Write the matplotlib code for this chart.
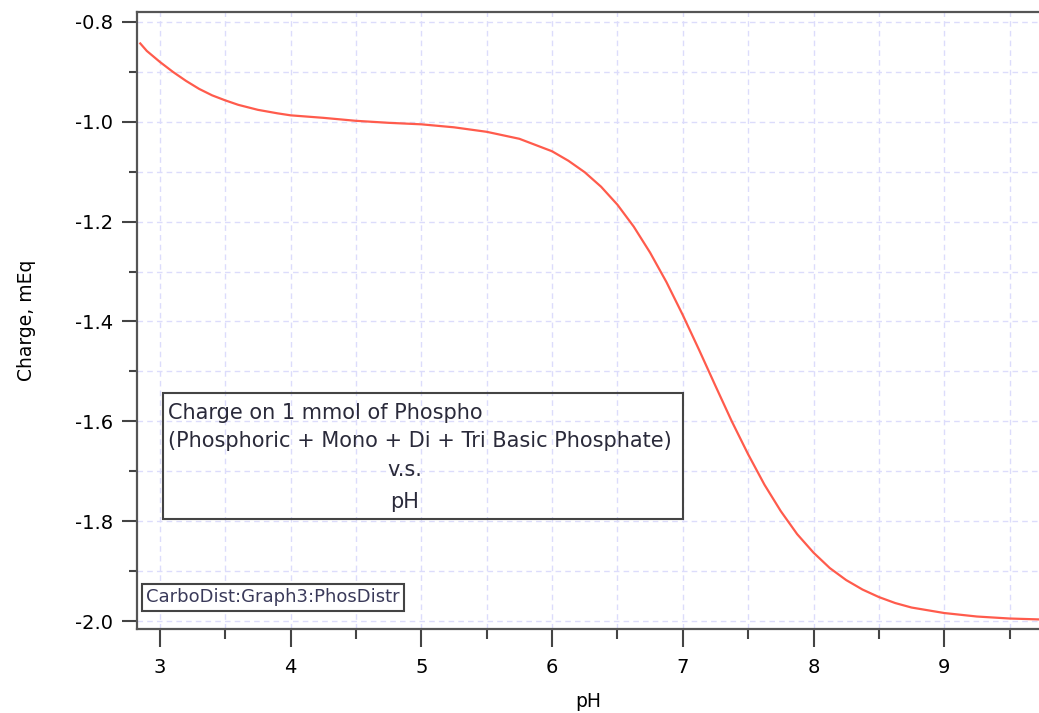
import numpy as np
import matplotlib.pyplot as plt
from matplotlib.ticker import MultipleLocator

# Net charge of 1 mmol phosphate species vs pH
ph = [2.85, 2.9, 3.0, 3.1, 3.2, 3.3, 3.4, 3.5, 3.6, 3.75, 3.9, 4.0, 4.25,
      4.5, 4.75, 5.0, 5.25, 5.5, 5.75, 6.0, 6.125, 6.25, 6.375, 6.5, 6.625,
      6.75, 6.875, 7.0, 7.125, 7.25, 7.375, 7.5, 7.625, 7.75, 7.875, 8.0,
      8.125, 8.25, 8.375, 8.5, 8.625, 8.75, 9.0, 9.25, 9.5, 9.75]
charge = [-0.843, -0.858, -0.880, -0.900, -0.918, -0.934, -0.947, -0.957,
          -0.966, -0.976, -0.983, -0.987, -0.992, -0.998, -1.002, -1.005,
          -1.011, -1.020, -1.034, -1.059, -1.078, -1.101, -1.130, -1.166,
          -1.210, -1.262, -1.321, -1.387, -1.457, -1.529, -1.600, -1.666,
          -1.727, -1.780, -1.826, -1.863, -1.894, -1.918, -1.937, -1.952,
          -1.964, -1.973, -1.984, -1.991, -1.995, -1.997]

xticks = [3, 4, 5, 6, 7, 8, 9]
yticks = [-2.0, -1.8, -1.6, -1.4, -1.2, -1.0, -0.8]

plt.rcParams['font.family'] = ['DejaVu Sans']

fig = plt.figure(figsize=(10.39, 7.13), dpi=100)
ax = fig.add_axes([137 / 1039, 1 - 629 / 713, 1 - 137 / 1039, (629 - 12) / 713])

ax.plot(ph, charge, color='#ff5b4c', lw=1.6, solid_joinstyle='round')

ax.set_xlim(2.825, 9.725)
ax.set_ylim(-2.016, -0.78)
ax.set_xticks(xticks)
ax.set_yticks(yticks)
ax.set_yticklabels(['%.1f' % v for v in yticks])
ax.xaxis.set_minor_locator(MultipleLocator(0.5))
ax.yaxis.set_minor_locator(MultipleLocator(0.1))
ax.tick_params(axis='y', which='major', length=11, width=1.5, color='#444444', labelsize=14, pad=6)
ax.tick_params(axis='y', which='minor', length=6, width=1.5, color='#444444')
ax.tick_params(axis='x', which='major', length=13, width=1.5, color='#444444', labelsize=14, pad=8)
ax.tick_params(axis='x', which='minor', length=7, width=1.5, color='#444444')

ax.grid(True, which='both', ls=(0, (4, 3)), color='#dcdcfb', lw=1)
ax.set_axisbelow(True)

for s in ['left', 'top', 'bottom']:
    ax.spines[s].set_color('#555555')
    ax.spines[s].set_linewidth(1.6)
ax.spines['right'].set_visible(False)

ax.set_xlabel('pH', fontsize=13.5, labelpad=11)
ax.set_ylabel('Charge, mEq', fontsize=13.5, labelpad=28)

# annotation box
tc = '#2a2a3a'
ax.text(3.06, -1.583, 'Charge on 1 mmol of Phospho', fontsize=15, color=tc, va='center', ha='left')
ax.text(3.06, -1.639, '(Phosphoric + Mono + Di + Tri Basic Phosphate)', fontsize=15, color=tc,
        va='center', ha='left')
ax.text(4.87, -1.697, 'v.s.', fontsize=15, color=tc, va='center', ha='center')
ax.text(4.87, -1.761, 'pH', fontsize=15, color=tc, va='center', ha='center')
box = plt.Rectangle((3.023, -1.796), 3.977, 0.253, fill=False, ec='#444444', lw=1.5)
ax.add_patch(box)

ax.text(2.895, -1.952, 'CarboDist:Graph3:PhosDistr', fontsize=13, color='#3a3a5a',
        va='center', ha='left',
        bbox=dict(boxstyle='square,pad=0.25', fc='white', ec='#444444', lw=1.5))

plt.savefig('out.png', dpi=100)
